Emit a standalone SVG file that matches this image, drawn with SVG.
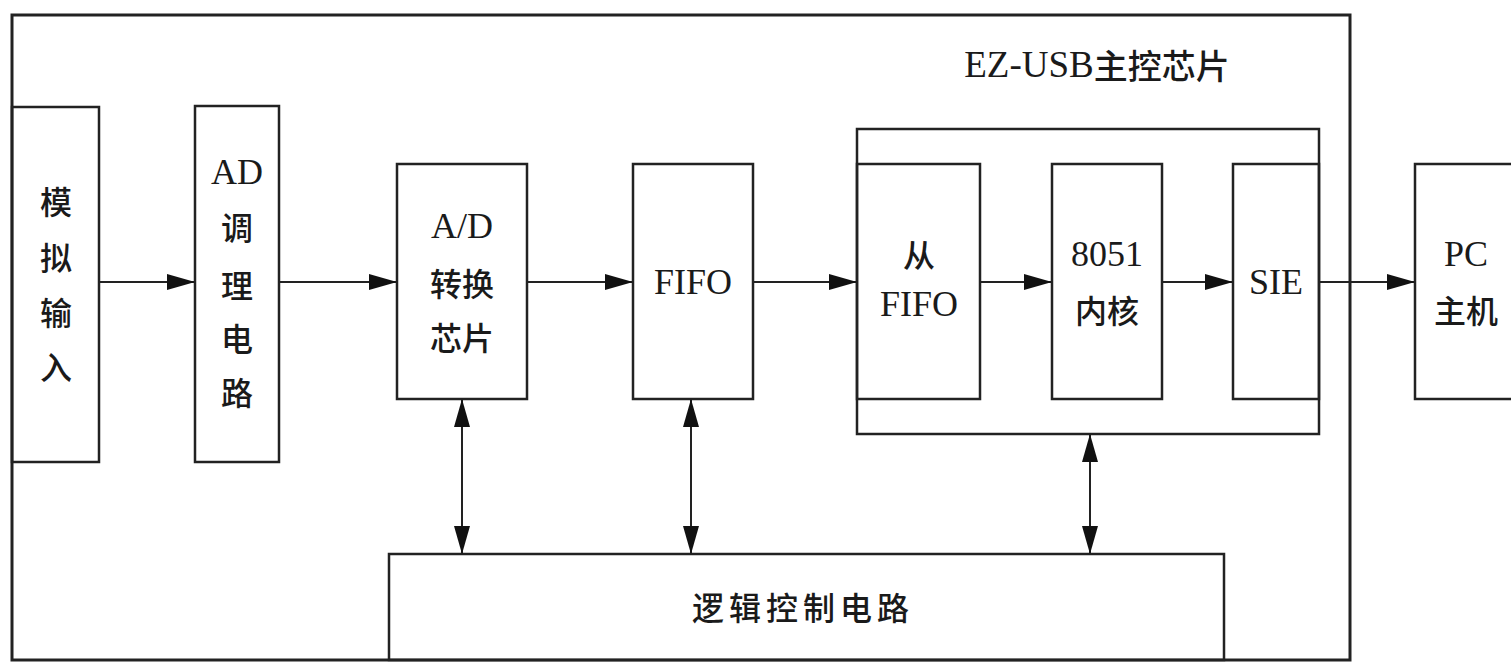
<svg xmlns="http://www.w3.org/2000/svg" width="1511" height="665" viewBox="0 0 1511 665">
<style>
.box{fill:none;stroke:#222;stroke-width:2.5}
.frame{fill:none;stroke:#222;stroke-width:3}
.ln{fill:none;stroke:#222;stroke-width:2}
.t{font-family:"Liberation Serif","Noto Sans CJK SC",serif;font-size:36px;fill:#1a1a1a;text-anchor:middle;dominant-baseline:central}
.c{font-family:"Noto Sans CJK SC","Liberation Serif",sans-serif;font-size:32px;font-weight:500;fill:#1a1a1a;text-anchor:middle;dominant-baseline:central}
</style>
<defs>
<marker id="ah" markerUnits="userSpaceOnUse" markerWidth="30" markerHeight="18" refX="28" refY="8" orient="auto-start-reverse">
<path d="M0,0 L28,8 L0,16 z" fill="#111"/>
</marker>
</defs>
<rect width="1511" height="665" fill="#fff"/>
<g id="outer">
<rect class="frame" x="12" y="15" width="1338" height="645"/>
<text class="c" x="1097" y="64" font-size="34" style="font-size:34px"><tspan font-family="Liberation Serif" style="font-size:37px;font-weight:400">EZ-USB</tspan>主控芯片</text>
</g>
<g id="ezusb">
<rect class="box" x="857" y="129" width="462" height="305"/>
</g>
<g id="n1">
<rect class="box" x="12" y="107" width="87" height="355"/>
<text class="c" x="56" y="200">模</text>
<text class="c" x="56" y="256">拟</text>
<text class="c" x="56" y="311">输</text>
<text class="c" x="56" y="365">入</text>
</g>
<g id="n2">
<rect class="box" x="195" y="106" width="84" height="356"/>
<text class="t" x="237" y="172">AD</text>
<text class="c" x="237" y="226">调</text>
<text class="c" x="237" y="284">理</text>
<text class="c" x="237" y="337">电</text>
<text class="c" x="237" y="391">路</text>
</g>
<g id="n3">
<rect class="box" x="397" y="164" width="130" height="235"/>
<text class="t" x="462" y="226">A/D</text>
<text class="c" x="462" y="282">转换</text>
<text class="c" x="462" y="336">芯片</text>
</g>
<g id="n4">
<rect class="box" x="633" y="164" width="120" height="235"/>
<text class="t" x="693" y="282">FIFO</text>
</g>
<g id="n5">
<rect class="box" x="857" y="164" width="123" height="235"/>
<text class="c" x="919" y="253">从</text>
<text class="t" x="919" y="304">FIFO</text>
</g>
<g id="n6">
<rect class="box" x="1052" y="164" width="110" height="235"/>
<text class="t" x="1107" y="254">8051</text>
<text class="c" x="1107" y="309">内核</text>
</g>
<g id="n7">
<rect class="box" x="1233" y="164" width="86" height="235"/>
<text class="t" x="1276" y="282">SIE</text>
</g>
<g id="n8">
<rect class="box" x="1415" y="164" width="110" height="235"/>
<text class="t" x="1466" y="254">PC</text>
<text class="c" x="1466" y="309">主机</text>
</g>
<g id="n9">
<rect class="box" x="389" y="554" width="835" height="106"/>
<text class="c" x="803" y="606" letter-spacing="5">逻辑控制电路</text>
</g>
<g id="connectors">
<line class="ln" x1="99" y1="282" x2="195" y2="282" marker-end="url(#ah)"/>
<line class="ln" x1="279" y1="282" x2="397" y2="282" marker-end="url(#ah)"/>
<line class="ln" x1="527" y1="282" x2="633" y2="282" marker-end="url(#ah)"/>
<line class="ln" x1="753" y1="282" x2="857" y2="282" marker-end="url(#ah)"/>
<line class="ln" x1="980" y1="282" x2="1052" y2="282" marker-end="url(#ah)" stroke="#666"/>
<line class="ln" x1="1162" y1="282" x2="1233" y2="282" marker-end="url(#ah)"/>
<line class="ln" x1="1319" y1="282" x2="1415" y2="282" marker-end="url(#ah)"/>
<line class="ln" x1="462" y1="399" x2="462" y2="554" marker-start="url(#ah)" marker-end="url(#ah)"/>
<line class="ln" x1="691" y1="399" x2="691" y2="554" marker-start="url(#ah)" marker-end="url(#ah)"/>
<line class="ln" x1="1090" y1="434" x2="1090" y2="554" marker-start="url(#ah)" marker-end="url(#ah)"/>
</g>
</svg>
